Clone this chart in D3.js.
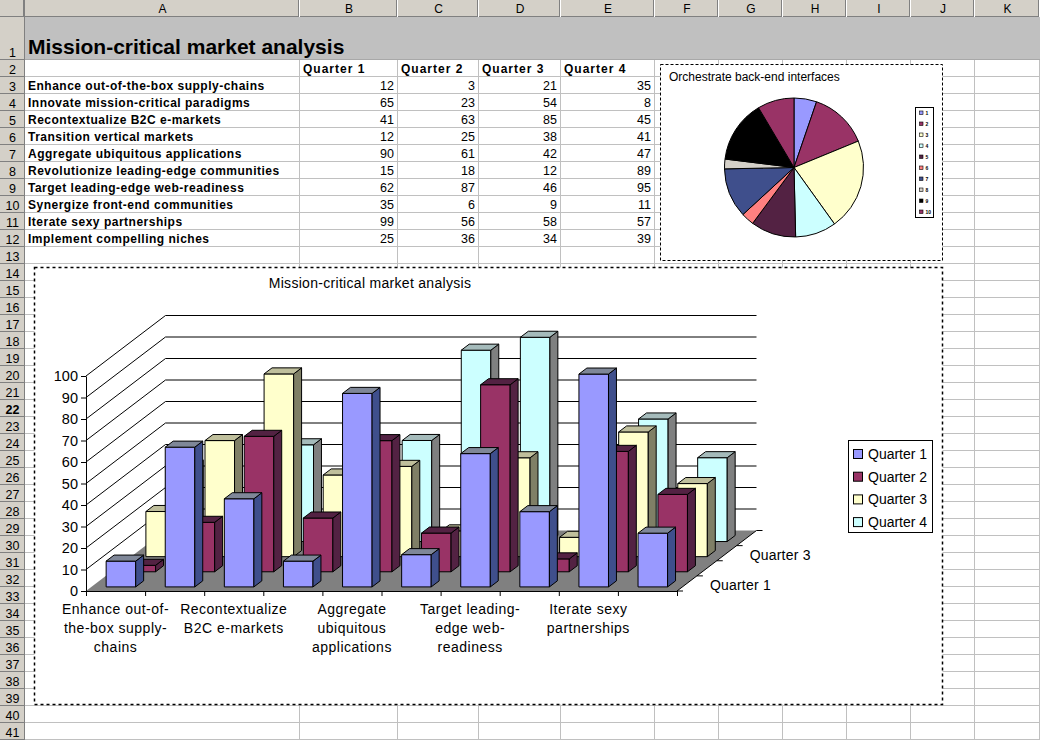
<!DOCTYPE html>
<html><head><meta charset="utf-8">
<script src="https://cdn.jsdelivr.net/npm/d3@7/dist/d3.min.js"></script>
<style>
body{margin:0;background:#fff;}
svg{display:block;font-family:Arial,"Liberation Sans",sans-serif;}
</style>
</head><body>
<svg id="c" width="1040" height="740"></svg>
<script>
// ---------------- data ----------------
const sheetTitle = "Mission-critical market analysis";
const categories = [
  "Enhance out-of-the-box supply-chains",
  "Innovate mission-critical paradigms",
  "Recontextualize B2C e-markets",
  "Transition vertical markets",
  "Aggregate ubiquitous applications",
  "Revolutionize leading-edge communities",
  "Target leading-edge web-readiness",
  "Synergize front-end communities",
  "Iterate sexy partnerships",
  "Implement compelling niches"
];
const seriesNames = ["Quarter 1", "Quarter 2", "Quarter 3", "Quarter 4"];
const q1 = [12, 65, 41, 12, 90, 15, 62, 35, 99, 25];
const q2 = [3, 23, 63, 25, 61, 18, 87, 6, 56, 36];
const q3 = [21, 54, 85, 38, 42, 12, 46, 9, 58, 34];
const q4 = [35, 8, 45, 41, 47, 89, 95, 11, 57, 39];
const yTicks = [0, 10, 20, 30, 40, 50, 60, 70, 80, 90, 100];
// wrapped category tick labels (every other category is labelled)
const categoryTickLabels = [
  ["Enhance out-of-", "the-box supply-", "chains"], null,
  ["Recontextualize", "B2C e-markets"], null,
  ["Aggregate", "ubiquitous", "applications"], null,
  ["Target leading-", "edge web-", "readiness"], null,
  ["Iterate sexy", "partnerships"], null
];
const depthTickLabels = ["Quarter 1", "", "Quarter 3", ""];
const columnLetters = ["A", "B", "C", "D", "E", "F", "G", "H", "I", "J", "K"];
const pieTitle = "Orchestrate back-end interfaces";
const pieLegendLabels = ["1", "2", "3", "4", "5", "6", "7", "8", "9", "10"];
const seriesValues = [q1, q2, q3, q4];

// ---------------- styles ----------------
const seriesFront = ["#9999FF", "#993366", "#FFFFCC", "#CCFFFF"];
const seriesSide  = ["#3F4F8C", "#532243", "#7F7F66", "#7F8080"];
const seriesTop   = ["#7F8798", "#532243", "#BFBF9C", "#A5BBBB"];
const pieColors = ["#9999FF", "#993366", "#FFFFCC", "#CCFFFF", "#532243",
                   "#FF8080", "#3F4F8C", "#D4D0C8", "#000000", "#993366"];

const svg = d3.select("#c");
const W = 1040, H = 740;

// ---------------- spreadsheet grid ----------------
const colEdges = [25, 300, 398, 479, 561, 655, 719, 783, 847, 911, 975, 1040];
const rowTop = n => n === 1 ? 17 : 60 + (n - 2) * 17;
const rowBottom = n => n === 1 ? 60 : rowTop(n) + 17;
const nRows = 41;

svg.append("rect").attr("width", W).attr("height", H).attr("fill", "#fff");

const grid = svg.append("g").attr("shape-rendering", "crispEdges");
for (let n = 2; n <= nRows; n++) {
  grid.append("line").attr("x1", 25).attr("x2", W)
    .attr("y1", rowBottom(n) - 0.5).attr("y2", rowBottom(n) - 0.5)
    .attr("stroke", "#C0C0C0");
}
colEdges.slice(1).forEach(x => {
  grid.append("line").attr("x1", x - 0.5).attr("x2", x - 0.5)
    .attr("y1", 60).attr("y2", H).attr("stroke", "#C0C0C0");
});
// row 1 band
grid.append("rect").attr("x", 25).attr("y", 17).attr("width", W - 25).attr("height", 43)
  .attr("fill", "#C0C0C0");
grid.append("line").attr("x1", 25).attr("x2", W).attr("y1", 59.5).attr("y2", 59.5)
  .attr("stroke", "#A8A8A8");

// column header
const hdr = svg.append("g").attr("shape-rendering", "crispEdges");
hdr.append("rect").attr("x", 0).attr("y", 0).attr("width", W).attr("height", 17).attr("fill", "#D4D0C8");
hdr.append("line").attr("x1", 0).attr("x2", W).attr("y1", 16.5).attr("y2", 16.5).attr("stroke", "#808080");
colEdges.forEach(x => {
  hdr.append("line").attr("x1", x - 1.5).attr("x2", x - 1.5).attr("y1", 0).attr("y2", 17).attr("stroke", "#808080");
  hdr.append("line").attr("x1", x - 0.5).attr("x2", x - 0.5).attr("y1", 0).attr("y2", 17).attr("stroke", "#FFFFFF");
});
columnLetters.forEach((c, i) => {
  hdr.append("text").attr("x", (colEdges[i] + colEdges[i + 1]) / 2).attr("y", 13)
    .attr("text-anchor", "middle").attr("font-size", 12).attr("fill", "#000").text(c);
});
// row header
hdr.append("rect").attr("x", 0).attr("y", 17).attr("width", 25).attr("height", H - 17).attr("fill", "#D4D0C8");
hdr.append("line").attr("x1", 24.5).attr("x2", 24.5).attr("y1", 0).attr("y2", H).attr("stroke", "#808080");
for (let n = 1; n <= nRows; n++) {
  const b = rowBottom(n);
  hdr.append("line").attr("x1", 0).attr("x2", 25).attr("y1", b - 0.5).attr("y2", b - 0.5).attr("stroke", "#808080");
  hdr.append("text").attr("x", 12.5).attr("y", b - 3.5).attr("text-anchor", "middle")
    .attr("font-size", 12.5).attr("font-weight", n === 22 ? "bold" : "normal").attr("fill", "#000").text(n);
}

// sheet content
svg.append("text").attr("x", 28).attr("y", 54).attr("font-size", 21).attr("font-weight", "bold")
  .attr("fill", "#000").text(sheetTitle);
seriesNames.forEach((s, i) => {
  svg.append("text").attr("x", colEdges[i + 1] + 3).attr("y", rowTop(2) + 13)
    .attr("font-size", 12).attr("font-weight", "bold").attr("letter-spacing", 1).text(s);
});
categories.forEach((c, r) => {
  const yb = rowTop(3 + r) + 13;
  svg.append("text").attr("x", 28).attr("y", yb).attr("font-size", 12).attr("font-weight", "bold")
    .attr("letter-spacing", 0.5).text(c);
  seriesValues.forEach((vals, i) => {
    svg.append("text").attr("x", colEdges[i + 2] - 4).attr("y", yb).attr("text-anchor", "end")
      .attr("font-size", 12.5).text(vals[r]);
  });
});

// ---------------- pie chart ----------------
const pieBox = svg.append("g");
pieBox.append("rect").attr("x", 660.5).attr("y", 64.5).attr("width", 282).attr("height", 196)
  .attr("fill", "#fff").attr("stroke", "#000").attr("stroke-dasharray", "3,2");
pieBox.append("text").attr("x", 669).attr("y", 81).attr("font-size", 12).text(pieTitle);
const arcs = d3.pie().sort(null).value(d => d)(q3);
const arcGen = d3.arc().innerRadius(0).outerRadius(69.5);
pieBox.append("g").attr("transform", "translate(794,167.5)")
  .selectAll("path").data(arcs).join("path")
  .attr("d", arcGen).attr("fill", (d, i) => pieColors[i])
  .attr("stroke", "#000").attr("stroke-width", 1).attr("stroke-linejoin", "round");
const pl = pieBox.append("g");
pl.append("rect").attr("x", 915.5).attr("y", 107.5).attr("width", 18).attr("height", 110)
  .attr("fill", "#fff").attr("stroke", "#000");
pieLegendLabels.forEach((t, i) => {
  pl.append("rect").attr("x", 919.5).attr("y", 111 + 11 * i).attr("width", 3.5).attr("height", 3.5)
    .attr("fill", pieColors[i]).attr("stroke", "#000").attr("stroke-width", 0.6);
  pl.append("text").attr("x", 925.5).attr("y", 115 + 11 * i).attr("font-size", 5)
    .attr("font-weight", "bold").text(t);
});

// ---------------- 3D column chart ----------------
const cb = svg.append("g");
cb.append("rect").attr("x", 34.5).attr("y", 267.5).attr("width", 908).attr("height", 437)
  .attr("fill", "#fff").attr("stroke", "#000").attr("stroke-width", 1.5).attr("stroke-dasharray", "3,3");
cb.append("text").attr("x", 370).attr("y", 288).attr("text-anchor", "middle").attr("font-size", 14)
  .attr("letter-spacing", 0.3).text(sheetTitle);

const FY = 591, DX = 79.5, DY = 60.5;
const x = d3.scaleBand().domain(categories).range([86, 677]).paddingInner(0.5).paddingOuter(0.25);
const xb = d3.scaleLinear().domain([0, categories.length]).range([86, 677]);
const y = d3.scaleLinear().domain([0, 100]).range([0, 215]);
const z = d3.scaleLinear().domain([0, seriesNames.length]).range([0, 1]);
const P = (px, v, d) => [px + DX * d, FY - DY * d - y(v)];
const pts = arr => arr.map(p => p.join(",")).join(" ");

// floor
cb.append("polygon").attr("points", pts([P(86, 0, 0), P(677, 0, 0), P(677, 0, 1), P(86, 0, 1)]))
  .attr("fill", "#808080");
// walls gridlines
const gl = cb.append("g").attr("stroke", "#000").attr("stroke-width", 1);
yTicks.forEach(v => {
  const a = P(86, v, 0), b = P(86, v, 1), c = P(677, v, 1);
  if (v > 0) gl.append("line").attr("x1", a[0]).attr("y1", a[1]).attr("x2", b[0]).attr("y2", b[1]);
  if (v > 0) gl.append("line").attr("x1", b[0]).attr("y1", b[1]).attr("x2", c[0]).attr("y2", c[1]);
});

// bars, back series first
for (let s = seriesNames.length - 1; s >= 0; s--) {
  const d0 = z(s + 0.27), d1 = z(s + 0.67);
  const g = cb.append("g").attr("stroke", "#000").attr("stroke-width", 1).attr("stroke-linejoin", "round");
  categories.forEach((c, i) => {
    const v = seriesValues[s][i];
    const x0 = x(c), x1 = x0 + x.bandwidth();
    g.append("polygon").attr("points", pts([P(x0, 0, d0), P(x1, 0, d0), P(x1, v, d0), P(x0, v, d0)]))
      .attr("fill", seriesFront[s]);
    g.append("polygon").attr("points", pts([P(x1, 0, d0), P(x1, 0, d1), P(x1, v, d1), P(x1, v, d0)]))
      .attr("fill", seriesSide[s]);
    g.append("polygon").attr("points", pts([P(x0, v, d0), P(x1, v, d0), P(x1, v, d1), P(x0, v, d1)]))
      .attr("fill", seriesTop[s]);
  });
}

// value axis
const yScreen = d3.scaleLinear().domain([0, 100]).range([FY, FY - y(100)]);
const yAxis = cb.append("g").attr("transform", "translate(86,0)")
  .call(d3.axisLeft(yScreen).tickValues(yTicks).tickSize(5).tickSizeOuter(0).tickPadding(3));
yAxis.selectAll("text").attr("font-size", 14.5).attr("font-family", "Arial, 'Liberation Sans', sans-serif").attr("fill", "#000");
yAxis.selectAll("line,path").attr("stroke", "#000");

// category axis
const xAxis = cb.append("g").attr("transform", `translate(0,${FY})`)
  .call(d3.axisBottom(xb).tickValues(d3.range(categories.length + 1)).tickSize(5).tickSizeOuter(0).tickFormat(""));
xAxis.selectAll("line,path").attr("stroke", "#000");
categoryTickLabels.forEach((lines, i) => {
  if (!lines) return;
  const cx = x(categories[i]) + x.bandwidth() / 2;
  const t = cb.append("text").attr("text-anchor", "middle").attr("font-size", 14).attr("letter-spacing", 0.5);
  lines.forEach((ln, k) => t.append("tspan").attr("x", cx).attr("y", 614 + 19 * k).text(ln));
});

// depth axis
const da = cb.append("g").attr("stroke", "#000");
const dA = P(677, 0, 0), dB = P(677, 0, 1);
da.append("line").attr("x1", dA[0]).attr("y1", dA[1]).attr("x2", dB[0]).attr("y2", dB[1]);
d3.range(seriesNames.length + 1).forEach(k => {
  const p = P(677, 0, z(k));
  da.append("line").attr("x1", p[0]).attr("y1", p[1]).attr("x2", p[0] + 6).attr("y2", p[1]);
});
depthTickLabels.forEach((t, k) => {
  if (!t) return;
  const p = P(677, 0, z(k + 0.5));
  cb.append("text").attr("x", p[0] + 23).attr("y", p[1] + 7).attr("font-size", 14).attr("letter-spacing", 0.2).text(t);
});

// legend
const lg = cb.append("g");
lg.append("rect").attr("x", 848.5).attr("y", 440.5).attr("width", 84).attr("height", 92)
  .attr("fill", "#fff").attr("stroke", "#000");
seriesNames.forEach((s, i) => {
  lg.append("rect").attr("x", 853.5).attr("y", 449.5 + 22.7 * i).attr("width", 9).attr("height", 9)
    .attr("fill", seriesFront[i]).attr("stroke", "#000");
  lg.append("text").attr("x", 868).attr("y", 459 + 22.7 * i).attr("font-size", 14).text(s);
});
</script>
</body></html>
